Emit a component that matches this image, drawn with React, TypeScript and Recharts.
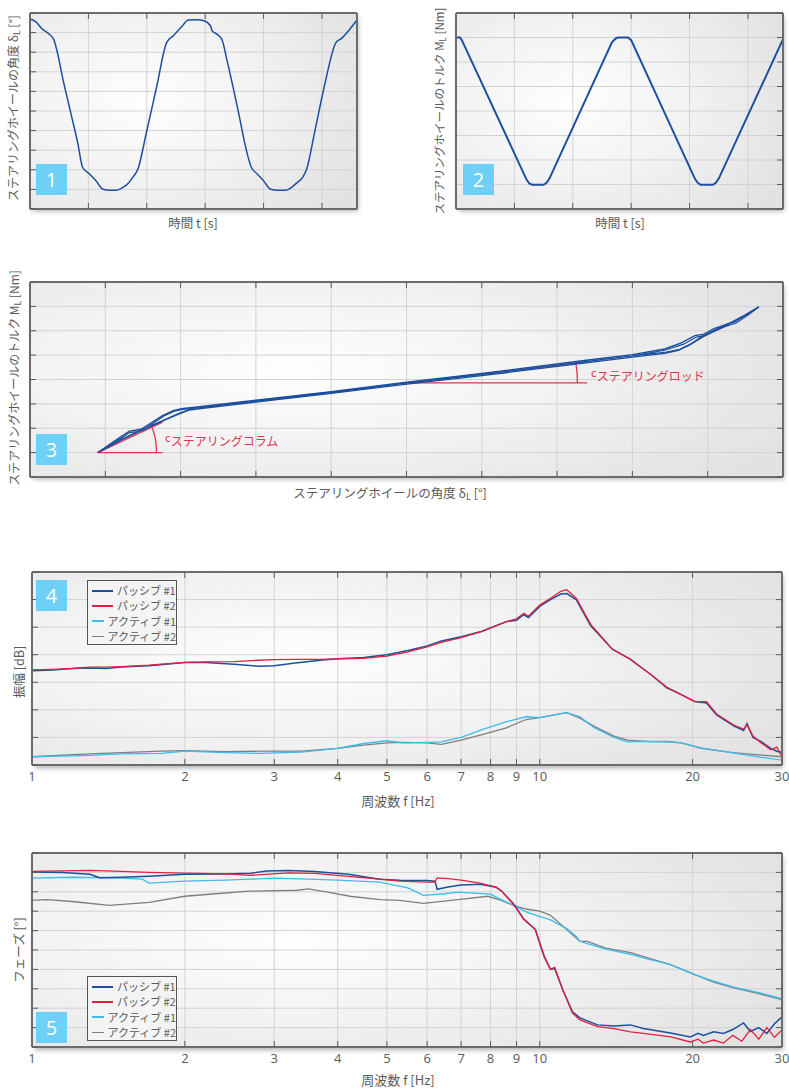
import React from 'react';
import { LineChart, Line, XAxis, YAxis, CartesianGrid } from 'recharts';

// ---------- Panel 1: steering wheel angle vs time ----------
const p1Time = [0,0.1,0.21,0.33,0.41,0.47,0.56,0.7,0.82,0.9,1.02,1.13,1.25,1.36,1.48,1.59,1.68,1.76,1.85,1.99,2.17,2.34,2.45,2.6,2.71,2.86,2.97,3.09,3.12,3.2,3.29,3.37,3.55,3.72,3.79,3.89,4.0,4.12,4.24,4.38,4.49,4.58,4.67,4.74,4.87,5.04,5.24,5.33,5.47,5.59];
const p1Angle = [9.69,9.55,9.18,8.92,8.62,7.97,6.68,4.88,3.33,2.13,1.79,1.44,1.01,0.96,0.96,1.1,1.3,1.61,2.05,3.85,6.25,8.49,8.83,9.31,9.64,9.66,9.62,9.35,9.09,8.92,8.62,7.63,5.22,2.82,2.13,1.79,1.44,1.01,0.96,0.96,1.13,1.36,1.61,2.05,3.85,6.25,8.49,8.69,9.15,9.61];

// ---------- Panel 2: steering wheel torque vs time ----------
const p2Time = [0,0.07,0.1,1.21,1.26,1.31,1.5,1.55,1.6,2.67,2.74,2.78,2.95,3.0,4.09,4.14,4.19,4.4,4.45,4.5,5.6];
const p2Torque = [7,7,6.89,1.19,1.03,0.99,0.99,1.07,1.24,6.8,6.97,7,7,6.89,1.24,1.07,0.99,0.99,1.07,1.24,6.93];

// ---------- Panel 3: torque vs angle hysteresis ----------
const p3LoopAx = [0.9,1.05,1.2,1.32,1.4,1.48,1.6,1.76,1.9,2.01,2.25,3.0,4.0,4.92,6.0,7.36,8.0,8.43,8.65,8.83,8.95,9.09,9.36,9.55,9.68,9.49,9.3,9.19,9.0,8.92,8.75,8.61,8.43,8.0,7.36,6.0,4.92,4.0,3.0,2.3,2.12,1.95,1.81,1.68,1.4,1.2,0.9];
const p3LoopAy = [1.0,1.32,1.64,1.88,1.92,1.97,2.2,2.52,2.72,2.8,2.88,3.15,3.5,3.86,4.25,4.78,5.02,5.25,5.5,5.8,5.86,6.1,6.36,6.72,6.98,6.62,6.3,6.12,5.85,5.72,5.4,5.2,5.07,4.92,4.67,4.16,3.78,3.43,3.07,2.82,2.75,2.55,2.36,2.18,1.8,1.5,1.0];
const p3LoopBx = [0.9,1.05,1.2,1.32,1.42,1.5,1.62,1.78,1.92,2.05,2.3,3.0,4.0,4.92,6.0,7.36,8.0,8.43,8.68,8.85,8.98,9.12,9.38,9.56,9.68,9.5,9.32,9.2,9.02,8.93,8.77,8.63,8.45,8.0,7.36,6.0,4.92,4.0,3.0,2.3,2.14,1.97,1.83,1.7,1.42,1.2,0.9];
const p3LoopBy = [1.0,1.28,1.58,1.82,1.86,1.92,2.17,2.5,2.7,2.78,2.86,3.1,3.45,3.82,4.2,4.73,4.97,5.2,5.45,5.74,5.82,6.06,6.32,6.7,6.98,6.66,6.36,6.2,5.92,5.78,5.45,5.24,5.12,4.97,4.72,4.21,3.83,3.48,3.12,2.87,2.8,2.6,2.41,2.23,1.84,1.53,1.0];
const colLineX = [1.76,0.9,1.76];
const colLineY = [2.25,1.0,1.0];
const colArcX = [1.68,1.665,1.62];
const colArcY = [1.0,1.55,2.05];
const rodLineX = [7.38,4.98,7.4];
const rodLineY = [4.71,3.86,3.86];
const rodArcX = [7.27,7.265,7.25];
const rodArcY = [3.86,4.26,4.65];

// ---------- Panel 4: amplitude vs frequency ----------
const p4PassiveF = [1,1.1,1.2,1.3,1.4,1.5,1.7,2.0,2.2,2.5,2.8,3.0,3.3,3.7,4.0,4.5,5.0,5.5,6.0,6.4,7.0,7.7,8.2,8.6,9.0,9.3,9.5,10.0,10.5,11.0,11.3,11.8,12.6,13.9,15.1,15.4,16.5,17.8,19.0,20.2,21.3,22.3,24.1,25.2,25.6,26.3,27.3,28.5,29.3,30];
const p4Passive1 = [3.42,3.45,3.5,3.52,3.5,3.55,3.6,3.72,3.72,3.65,3.58,3.6,3.7,3.8,3.85,3.9,4.0,4.15,4.32,4.5,4.65,4.85,5.05,5.2,5.25,5.45,5.35,5.75,6.0,6.2,6.22,6.0,5.05,4.2,3.83,3.7,3.3,2.8,2.55,2.3,2.25,1.82,1.42,1.25,1.5,1.0,0.85,0.6,0.5,0.45];
const p4Passive2 = [3.45,3.47,3.5,3.55,3.55,3.57,3.62,3.72,3.74,3.75,3.8,3.82,3.83,3.83,3.85,3.87,3.95,4.1,4.28,4.45,4.62,4.85,5.05,5.2,5.3,5.5,5.4,5.8,6.05,6.3,6.36,6.05,5.1,4.2,3.83,3.72,3.3,2.82,2.55,2.3,2.3,1.85,1.45,1.3,1.45,1.05,0.8,0.55,0.65,0.3];
const p4ActiveF = [1,1.3,1.5,1.8,2.0,2.4,2.8,3.4,4.0,4.5,5.0,5.4,6.0,6.4,7.0,7.7,8.6,9.4,10.0,11.3,12.0,12.8,14.0,14.9,16.5,17.8,19.0,20.8,24.0,27.3,30];
const p4Active1 = [0.3,0.35,0.4,0.42,0.5,0.45,0.42,0.47,0.6,0.78,0.88,0.8,0.82,0.84,1.0,1.28,1.57,1.75,1.72,1.9,1.75,1.35,1.0,0.84,0.86,0.84,0.8,0.62,0.44,0.28,0.18];
const p4Active2 = [0.3,0.4,0.45,0.5,0.52,0.48,0.5,0.5,0.6,0.72,0.8,0.82,0.8,0.75,0.9,1.1,1.35,1.65,1.72,1.9,1.7,1.4,1.05,0.9,0.85,0.86,0.8,0.6,0.45,0.36,0.3];

// ---------- Panel 5: phase vs frequency ----------
const p5Passive1F = [1,1.15,1.3,1.36,1.5,1.7,2.0,2.4,2.7,2.9,3.2,3.6,4.2,4.84,5.3,6.0,6.22,6.28,6.6,7.0,7.63,8.2,8.4,8.87,9.3,9.8,10.2,10.5,10.7,11.1,11.6,12.0,13,14,15.1,16,18.1,19.8,20.5,21,22,23,24,25.2,26,27,28,29,30];
const p5Passive1 = [9.02,9.0,8.9,8.72,8.75,8.8,8.9,8.92,8.96,9.07,9.1,9.05,8.9,8.65,8.6,8.58,8.55,8.13,8.25,8.35,8.39,8.24,8.05,7.4,6.6,6.06,4.66,4.0,4.05,2.95,1.81,1.5,1.14,1.08,1.14,0.95,0.72,0.52,0.7,0.6,0.78,0.7,0.9,1.24,0.8,1.0,0.7,1.2,1.55];
const p5Passive2F = [1,1.3,1.5,1.7,2.0,2.4,2.7,3.2,3.6,4.2,4.84,5.3,6.0,6.22,6.28,6.6,7.0,7.63,8.2,8.4,8.87,9.3,9.8,10.2,10.5,10.7,11.1,11.6,12.0,13,14,15.1,16,18.1,19.8,20.5,21,22,23,24,25,26,27,28,29,30];
const p5Passive2 = [9.05,9.1,9.05,9.0,8.96,8.92,8.85,8.98,8.95,8.8,8.65,8.55,8.5,8.5,8.72,8.68,8.6,8.45,8.24,8.05,7.36,6.58,6.06,4.7,4.0,4.1,2.95,1.75,1.4,1.05,0.95,0.78,0.7,0.52,0.26,0.4,0.2,0.36,0.2,0.6,0.3,0.9,0.4,1.0,0.5,0.88];
const p5Active1F = [1,1.2,1.5,1.65,1.7,2.0,2.4,2.7,3.0,3.5,4.0,4.84,5.5,5.9,6.5,6.9,8.0,8.4,8.87,9.45,10.5,11.3,11.8,12.0,12.5,13.5,15.1,16.5,18.1,20.2,22,24,27,30];
const p5Active1 = [8.7,8.75,8.7,8.65,8.45,8.55,8.6,8.65,8.7,8.65,8.6,8.5,8.2,7.82,7.9,7.98,7.88,7.6,7.3,6.94,6.55,6.1,5.7,5.45,5.3,5.05,4.77,4.5,4.25,3.73,3.4,3.1,2.8,2.49];
const p5Active2F = [1,1.07,1.2,1.42,1.7,2.0,2.3,2.68,3.33,3.5,3.8,4.23,4.84,5.3,5.9,6.9,7.9,8.4,8.87,9.45,10.0,10.5,11.3,12,12.4,13.5,15.1,16.5,18.1,20.2,22,24,27,30];
const p5Active2 = [7.56,7.6,7.5,7.3,7.46,7.77,7.9,8.03,8.08,8.15,8.0,7.77,7.6,7.56,7.4,7.6,7.77,7.56,7.3,7.1,7.0,6.79,6.06,5.44,5.44,5.1,4.87,4.55,4.25,3.73,3.35,3.06,2.75,2.44];

// ---------- axes / labels ----------
const timeTicks = [0,1,2,3,4,5];
const p1YTicks = [0,1,2,3,4,5,6,7,8,9,10];
const p2YTicks = [0,1,2,3,4,5,6,7,8];
const p3XTicks = [0,1,2,3,4,5,6,7,8,9,10];
const p3YTicks = [0,1,2,3,4,5,6,7,8];
const freqTicks = [1,2,3,4,5,6,7,8,9,10,20,30];
const p4YTicks = [0,1,2,3,4,5,6,7];
const p5YTicks = [0,1,2,3,4,5,6,7,8,9,10];
const seriesNames = ['パッシブ #1','パッシブ #2','アクティブ #1','アクティブ #2'];

const BLUE = '#1d4f9f';
const RED = '#e2213f';
const CYAN = '#3cbdf0';
const GRAY = '#7f7f7f';
const ANNO = '#e2334f';
const BADGE = '#6fd0f7';
const TXT = '#5a5a5a';
const seriesColors = [BLUE, RED, CYAN, GRAY];

const JP = '"Noto Sans CJK JP", "Noto Sans", sans-serif';
const NUMF = '"Open Sans", "Noto Sans", sans-serif';

const zip = (xs: number[], ys: number[]) => xs.map((x, i) => ({ x, y: ys[i] }));

type Box = { left: number; top: number; w: number; h: number };
type Rect = { x0: number; y0: number; x1: number; y1: number };

const AXIS_LINE = { stroke: '#6c6c6c', strokeWidth: 2 };
const TICK_LINE = { stroke: '#5a5a5a', strokeWidth: 1 };
const PLOT_BG = 'radial-gradient(ellipse 75% 85% at 35% 45%, #fefefe 0%, #f3f3f3 45%, #e2e2e2 100%)';
const EmptyTick = () => <g />;

function Panel(props: {
  box: Box; plot: Rect; xd: [number, number]; xt: number[]; yd: [number, number]; yt: number[];
  log?: boolean; labels?: boolean; leftTicks?: boolean; rightTicks?: boolean; children?: React.ReactNode;
}) {
  const { box, plot, xd, xt, yd, yt, log, labels, leftTicks, rightTicks, children } = props;
  const hb = labels ? 30 : 1;
  const margin = {
    left: plot.x0 - box.left - 1,
    right: box.left + box.w - plot.x1 - 1,
    top: plot.y0 - box.top - 1,
    bottom: box.top + box.h - plot.y1 - hb,
  };
  const scale = log ? 'log' : 'linear';
  return (
    <>
      <div style={{ position: 'absolute', left: plot.x0, top: plot.y0, width: plot.x1 - plot.x0, height: plot.y1 - plot.y0, background: PLOT_BG, boxShadow: '2px 3px 5px rgba(0,0,0,0.32)' }} />
      <div style={{ position: 'absolute', left: box.left, top: box.top }}>
        <LineChart width={box.w} height={box.h} margin={margin}>
          <CartesianGrid xAxisId="b" yAxisId="l" stroke="#d3d3d3" strokeWidth={1} />
          {labels ? (
            <XAxis xAxisId="b" orientation="bottom" type="number" dataKey="x" domain={xd} ticks={xt} allowDataOverflow scale={scale}
              interval={0} axisLine={AXIS_LINE} tickLine={TICK_LINE} height={30} tickSize={-6} tickMargin={13}
              tick={{ fill: TXT, fontSize: 13, fontFamily: NUMF }} />
          ) : (
            <XAxis xAxisId="b" orientation="bottom" type="number" dataKey="x" domain={xd} ticks={xt} allowDataOverflow scale={scale}
              interval={0} axisLine={AXIS_LINE} tickLine={TICK_LINE} height={1} mirror tickSize={6} tick={EmptyTick} />
          )}
          <XAxis xAxisId="t" orientation="top" type="number" dataKey="x" domain={xd} ticks={xt} allowDataOverflow scale={scale}
            interval={0} axisLine={AXIS_LINE} tickLine={TICK_LINE} height={1} mirror tickSize={6} tick={EmptyTick} />
          <YAxis yAxisId="l" orientation="left" type="number" domain={yd} ticks={yt} allowDataOverflow interval={0}
            width={1} mirror tick={EmptyTick} tickSize={6} axisLine={AXIS_LINE} tickLine={leftTicks ? TICK_LINE : false} />
          <YAxis yAxisId="r" orientation="right" type="number" domain={yd} ticks={yt} allowDataOverflow interval={0}
            width={1} mirror tick={EmptyTick} tickSize={6} axisLine={AXIS_LINE} tickLine={rightTicks ? TICK_LINE : false} />
          {children}
        </LineChart>
      </div>
    </>
  );
}

function series(key: string, data: { x: number; y: number }[], color: string, width: number, type: 'linear' | 'monotone' | 'natural' = 'linear') {
  return (
    <Line key={key} xAxisId="b" yAxisId="l" data={data} dataKey="y" type={type} stroke={color} strokeWidth={width}
      dot={false} activeDot={false} isAnimationActive={false} />
  );
}

function YLabel({ cx, cy, children, size = 12.5 }: { cx: number; cy: number; children: React.ReactNode; size?: number }) {
  return (
    <div style={{ position: 'absolute', left: cx, top: cy, transform: 'translate(-50%, -50%) rotate(-90deg)', whiteSpace: 'nowrap', fontSize: size, color: TXT, fontFamily: JP, lineHeight: 1 }}>
      {children}
    </div>
  );
}

function XLabel({ cx, cy, children, size = 12.5 }: { cx: number; cy: number; children: React.ReactNode; size?: number }) {
  return (
    <div style={{ position: 'absolute', left: cx, top: cy, transform: 'translate(-50%, -50%)', whiteSpace: 'nowrap', fontSize: size, color: TXT, fontFamily: JP, lineHeight: 1 }}>
      {children}
    </div>
  );
}

function Badge({ left, top, n }: { left: number; top: number; n: string }) {
  return (
    <div style={{ position: 'absolute', left, top, width: 31, height: 31, background: BADGE, color: '#fff', fontFamily: NUMF, fontSize: 20, display: 'flex', alignItems: 'center', justifyContent: 'center', zIndex: 3 }}>
      {n}
    </div>
  );
}

function LegendBox({ left, top }: { left: number; top: number }) {
  return (
    <div style={{ position: 'absolute', left, top, width: 90, height: 65, border: '1px solid #555', background: '#f4f4f4', zIndex: 3, boxSizing: 'border-box', paddingTop: 2 }}>
      {seriesNames.map((name, i) => (
        <div key={name} style={{ display: 'flex', alignItems: 'center', height: 15.3, paddingLeft: 4 }}>
          <div style={{ width: 21, height: i === 3 ? 1 : 2, background: seriesColors[i], marginRight: 4 }} />
          <span style={{ fontSize: 11, color: TXT, fontFamily: JP, whiteSpace: 'nowrap', lineHeight: 1 }}>{name}</span>
        </div>
      ))}
    </div>
  );
}

function Sub({ children }: { children: React.ReactNode }) {
  return <span style={{ fontSize: '0.72em', verticalAlign: '-0.25em' }}>{children}</span>;
}

export default function App() {
  const p1 = zip(p1Time, p1Angle);
  const p2 = zip(p2Time, p2Torque);
  return (
    <div style={{ position: 'absolute', left: 0, top: 0, width: 789, height: 1088, overflow: 'hidden', background: '#fff', fontFamily: JP }}>
      {/* Panel 1 */}
      <Panel box={{ left: 0, top: 0, w: 370, h: 230 }} plot={{ x0: 31, y0: 14, x1: 356, y1: 208 }} xd={[0, 5.6]} xt={timeTicks} yd={[0, 10]} yt={p1YTicks} leftTicks>
        {series('p1', p1, BLUE, 1.5, 'monotone')}
      </Panel>
      <Badge left={36} top={164} n="1" />
      <YLabel cx={14} cy={108} size={12}>ステアリングホイールの角度 δ<Sub>L</Sub> [°]</YLabel>
      <XLabel cx={193} cy={223}>時間 t [s]</XLabel>

      {/* Panel 2 */}
      <Panel box={{ left: 420, top: 0, w: 369, h: 230 }} plot={{ x0: 457, y0: 14, x1: 782, y1: 208 }} xd={[0, 5.6]} xt={timeTicks} yd={[0, 8]} yt={p2YTicks} rightTicks>
        {series('p2', p2, BLUE, 2, 'linear')}
      </Panel>
      <Badge left={463} top={164} n="2" />
      <YLabel cx={440} cy={111} size={11.5}>ステアリングホイールのトルク M<Sub>L</Sub> [Nm]</YLabel>
      <XLabel cx={620} cy={223}>時間 t [s]</XLabel>

      {/* Panel 3 */}
      <Panel box={{ left: 0, top: 260, w: 789, h: 240 }} plot={{ x0: 31, y0: 283, x1: 782, y1: 476 }} xd={[0, 10]} xt={p3XTicks} yd={[0, 8]} yt={p3YTicks} leftTicks rightTicks>
        {series('col', zip(colLineX, colLineY), ANNO, 1.3)}
        {series('colArc', zip(colArcX, colArcY), ANNO, 1.3, 'natural')}
        {series('rod', zip(rodLineX, rodLineY), ANNO, 1.3)}
        {series('rodArc', zip(rodArcX, rodArcY), ANNO, 1.3, 'natural')}
        {series('loopA', zip(p3LoopAx, p3LoopAy), BLUE, 1.4)}
        {series('loopB', zip(p3LoopBx, p3LoopBy), BLUE, 1.2)}
      </Panel>
      <Badge left={36} top={434} n="3" />
      <YLabel cx={15} cy={378} size={12}>ステアリングホイールのトルク M<Sub>L</Sub> [Nm]</YLabel>
      <XLabel cx={390} cy={494}>ステアリングホイールの角度 δ<Sub>L</Sub> [°]</XLabel>
      <div style={{ position: 'absolute', left: 165, top: 435, color: ANNO, fontFamily: JP, fontSize: 12, whiteSpace: 'nowrap', lineHeight: 1, zIndex: 2 }}>
        <span style={{ fontSize: 11, position: 'relative', top: -4 }}>c</span>ステアリングコラム
      </div>
      <div style={{ position: 'absolute', left: 591, top: 370, color: ANNO, fontFamily: JP, fontSize: 12, whiteSpace: 'nowrap', lineHeight: 1, zIndex: 2 }}>
        <span style={{ fontSize: 11, position: 'relative', top: -4 }}>c</span>ステアリングロッド
      </div>

      {/* Panel 4 */}
      <Panel box={{ left: 0, top: 560, w: 789, h: 250 }} plot={{ x0: 33, y0: 573, x1: 781, y1: 765 }} xd={[1, 30]} xt={freqTicks} yd={[0, 7]} yt={p4YTicks} log labels leftTicks rightTicks>
        {series('a2', zip(p4ActiveF, p4Active2), GRAY, 1.3)}
        {series('a1', zip(p4ActiveF, p4Active1), CYAN, 1.3)}
        {series('pa1', zip(p4PassiveF, p4Passive1), BLUE, 1.5)}
        {series('pa2', zip(p4PassiveF, p4Passive2), RED, 1.3)}
      </Panel>
      <Badge left={36} top={580} n="4" />
      <LegendBox left={87} top={580} />
      <YLabel cx={19} cy={672}>振幅 [dB]</YLabel>
      <XLabel cx={398} cy={800} size={13}>周波数 f [Hz]</XLabel>

      {/* Panel 5 */}
      <Panel box={{ left: 0, top: 840, w: 789, h: 240 }} plot={{ x0: 33, y0: 854, x1: 781, y1: 1047 }} xd={[1, 30]} xt={freqTicks} yd={[0, 10]} yt={p5YTicks} log labels leftTicks rightTicks>
        {series('b2', zip(p5Active2F, p5Active2), GRAY, 1.3)}
        {series('b1', zip(p5Active1F, p5Active1), CYAN, 1.3)}
        {series('pb1', zip(p5Passive1F, p5Passive1), BLUE, 1.5)}
        {series('pb2', zip(p5Passive2F, p5Passive2), RED, 1.3)}
      </Panel>
      <Badge left={36} top={1012} n="5" />
      <LegendBox left={87} top={976} />
      <YLabel cx={19} cy={950}>フェーズ [°]</YLabel>
      <XLabel cx={398} cy={1079} size={13}>周波数 f [Hz]</XLabel>
    </div>
  );
}
